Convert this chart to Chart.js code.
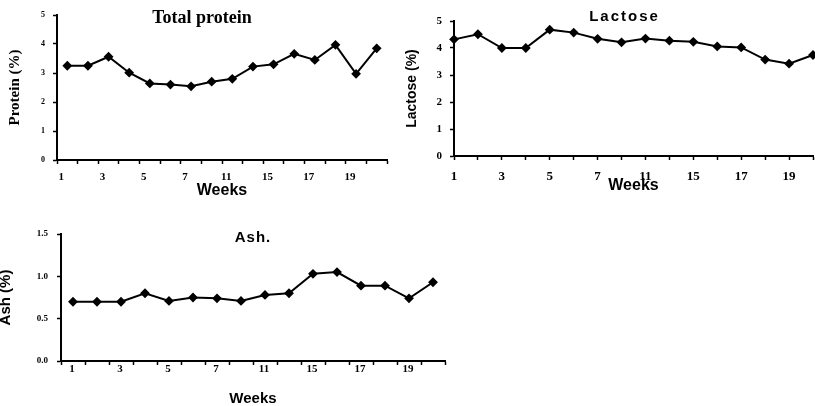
<!DOCTYPE html>
<html>
<head>
<meta charset="utf-8">
<script src="https://cdn.jsdelivr.net/npm/chart.js@4.4.0/dist/chart.umd.min.js"></script>
<style>
html, body { margin: 0; padding: 0; background: #fff; overflow: hidden; }
canvas { position: absolute; }
#proteinChart { left: 0; top: 0; }
#lactoseChart { left: 400px; top: 0; }
#ashChart { left: 0; top: 200px; }
</style>
</head>
<body>
<canvas id="proteinChart" width="400" height="200"></canvas>
<!-- a bit wider than the window: the last point sits on the right edge -->
<canvas id="lactoseChart" width="422" height="200"></canvas>
<canvas id="ashChart" width="460" height="206"></canvas>
<script>
// week axis labels as printed (every other category)
const weekLabels = ["1", "", "3", "", "5", "", "7", "", "11", "", "15", "", "17", "", "19", ""];

const protein = [3.25, 3.25, 3.56, 3.01, 2.64, 2.60, 2.54, 2.70, 2.80, 3.22, 3.30, 3.66, 3.45, 3.97, 2.97, 3.85];
const lactose = [4.32, 4.51, 4.00, 4.00, 4.68, 4.57, 4.34, 4.21, 4.35, 4.27, 4.23, 4.06, 4.02, 3.57, 3.42, 3.74];
const ash = [0.70, 0.70, 0.70, 0.80, 0.71, 0.75, 0.74, 0.71, 0.78, 0.80, 1.03, 1.05, 0.89, 0.89, 0.74, 0.93];

const SERIF = "'Liberation Serif', 'Times New Roman', serif";
const SANS = "'Liberation Sans', Arial, sans-serif";

// title sits inside the plot area, so draw it ourselves
const panelTitle = {
    id: "panelTitle",
    afterDraw(chart, args, opts) {
        const { ctx, chartArea } = chart;
        ctx.save();
        ctx.font = opts.font;
        ctx.letterSpacing = opts.spacing || "0px";
        ctx.fillStyle = "#000";
        ctx.textAlign = "center";
        ctx.textBaseline = "middle";
        ctx.fillText(opts.text, (chartArea.left + chartArea.right) / 2 + (opts.dx || 0), opts.y);
        ctx.restore();
    }
};

function makeChart(id, values, o) {
    return new Chart(document.getElementById(id), {
        type: "line",
        data: {
            labels: weekLabels,
            datasets: [{
                data: values,
                borderColor: "#000",
                borderWidth: 2,
                pointStyle: "rectRot",
                pointRadius: 3.5,
                pointBackgroundColor: "#000",
                pointBorderColor: "#000",
                tension: 0
            }]
        },
        plugins: [panelTitle],
        options: {
            responsive: false,
            animation: false,
            layout: { padding: o.padding },
            plugins: {
                legend: { display: false },
                tooltip: { enabled: false },
                panelTitle: o.title
            },
            scales: {
                x: {
                    offset: o.offset,
                    grid: { offset: o.offset, drawOnChartArea: false, tickLength: 4, tickColor: "#000", tickWidth: 1.5 },
                    border: { color: "#000", width: 2 },
                    ticks: { autoSkip: false, maxRotation: 0, color: "#000", font: o.xFont, padding: o.xPad, labelOffset: o.labelOffset },
                    title: { display: true, text: "Weeks", color: "#000", font: o.weeksFont, padding: { top: 0, bottom: o.weeksPad } },
                    afterFit: s => { s.height = o.xHeight; }
                },
                y: {
                    min: 0,
                    max: o.yMax,
                    grid: { drawOnChartArea: false, tickLength: 4, tickColor: "#000", tickWidth: 1.5 },
                    border: { color: "#000", width: 2 },
                    ticks: { stepSize: o.yStep, color: "#000", font: o.yFont, padding: o.yPad, callback: o.yFormat },
                    title: { display: true, text: o.yTitle, color: "#000", font: o.yTitleFont, padding: { top: o.yTitlePad, bottom: 0 } },
                    afterFit: s => { s.width = o.yWidth; }
                }
            }
        }
    });
}

makeChart("proteinChart", protein, {
    padding: { top: 15, right: 13, left: 0, bottom: 0 },
    title: { text: "Total protein", font: "bold 18px " + SERIF, y: 18, dx: -20 },
    offset: true, labelOffset: -6,
    xFont: { family: SERIF, size: 11, weight: "bold" }, xPad: 7, xHeight: 40,
    weeksFont: { family: SANS, size: 16, weight: "bold" }, weeksPad: 0,
    yMax: 5, yStep: 1, yFormat: v => String(v),
    yFont: { family: SERIF, size: 8, weight: "bold" }, yPad: 8, yWidth: 57,
    yTitle: "Protein (%)", yTitleFont: { family: SERIF, size: 15, weight: "bold" }, yTitlePad: 6
});

makeChart("lactoseChart", lactose, {
    padding: { top: 21, right: 0, left: 0, bottom: 0 },
    title: { text: "Lactose", font: "bold 15px " + SANS, spacing: "2px", y: 17, dx: -9 },
    offset: false, labelOffset: 0,
    xFont: { family: SERIF, size: 13, weight: "bold" }, xPad: 9, xHeight: 44,
    weeksFont: { family: SANS, size: 16, weight: "bold" }, weeksPad: 5,
    yMax: 5, yStep: 1, yFormat: v => String(v),
    yFont: { family: SERIF, size: 11, weight: "bold" }, yPad: 8, yWidth: 54,
    yTitle: "Lactose (%)", yTitleFont: { family: SANS, size: 14, weight: "bold" }, yTitlePad: 4
});

makeChart("ashChart", ash, {
    padding: { top: 34, right: 15, left: 0, bottom: 0 },
    title: { text: "Ash.", font: "bold 15px " + SANS, spacing: "1px", y: 38, dx: 0 },
    offset: true, labelOffset: -1,
    xFont: { family: SERIF, size: 11, weight: "bold" }, xPad: -2, xHeight: 45,
    weeksFont: { family: SANS, size: 15, weight: "bold" }, weeksPad: -2,
    yMax: 1.5, yStep: 0.5, yFormat: v => v.toFixed(1),
    yFont: { family: SERIF, size: 9, weight: "bold" }, yPad: 9, yWidth: 61,
    yTitle: "Ash (%)", yTitleFont: { family: SANS, size: 15, weight: "bold" }, yTitlePad: -3
});
</script>
</body>
</html>
